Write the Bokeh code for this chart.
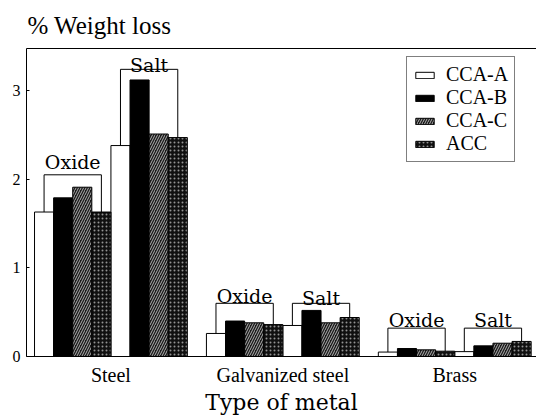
from bokeh.plotting import figure
from bokeh.models import Range1d, LinearAxis, FixedTicker, Legend, LegendItem, ColumnDataSource
from bokeh.embed import file_html
from bokeh.resources import INLINE
from bokeh.core.properties import value

# ---------------- data ----------------
metals = ["Steel", "Galvanized steel", "Brass"]
treatments = ["Oxide", "Salt"]
series = ["CCA-A", "CCA-B", "CCA-C", "ACC"]

# % weight loss, order: Steel-Oxide, Steel-Salt, Galv-Oxide, Galv-Salt, Brass-Oxide, Brass-Salt
cca_a = [1.63, 2.38, 0.26, 0.35, 0.05, 0.055]
cca_b = [1.79, 3.12, 0.40, 0.52, 0.09, 0.12]
cca_c = [1.91, 2.51, 0.38, 0.38, 0.075, 0.15]
acc = [1.63, 2.47, 0.36, 0.44, 0.06, 0.17]
bracket_levels = [2.05, 3.24, 0.60, 0.60, 0.32, 0.32]
y_ticks = [0, 1, 2, 3]
x_title = "Type of metal"
y_title = "% Weight loss"

# ---------------- styling ----------------
SERIF = "DejaVu Serif"
TIMES = "Liberation Serif"
INK = "black"
label_gap = [13, 4, 7, 5, 8, 8]  # px between bracket and its label
start = 0.42  # offset of first bar (bar-width units)

values = [cca_a, cca_b, cca_c, acc]
styles = [
    dict(fill_color="white"),
    dict(fill_color="black"),
    dict(fill_color="#1a1a1a", hatch_pattern="/", hatch_color="white", hatch_scale=5, hatch_weight=1, hatch_alpha=0.65),
    dict(fill_color="#101010", hatch_pattern=".", hatch_color="white", hatch_scale=4, hatch_weight=1, hatch_alpha=0.55),
]

p = figure(width=536, height=419, output_backend="svg", toolbar_location=None,
           x_range=Range1d(0, 26.7), y_range=Range1d(0, 3.475),
           min_border_left=26, min_border_right=0, min_border_top=46, min_border_bottom=63,
           outline_line_color=None, background_fill_color="white", border_fill_color="white")
p.grid.visible = False

# bar positions derived from group/treatment/series index
def bar_x(g, t, s):
    return start + 9 * g + 4 * t + s + 0.5

renderers = []
for s, (name, vals, st) in enumerate(zip(series, values, styles)):
    xs, tops = [], []
    for g in range(len(metals)):
        for t in range(len(treatments)):
            xs.append(bar_x(g, t, s))
            tops.append(vals[2 * g + t])
    src = ColumnDataSource(dict(x=xs, top=tops))
    r = p.vbar(x="x", top="top", bottom=0, width=1, source=src,
               line_color="black", line_width=1, **st)
    renderers.append(r)

# brackets
bxs, bys, lx, ly, lt, lo = [], [], [], [], [], []
for g in range(len(metals)):
    for t in range(len(treatments)):
        k = 2 * g + t
        x0, x1 = bar_x(g, t, 0), bar_x(g, t, 3)
        lev = bracket_levels[k]
        bxs.append([x0, x0, x1, x1])
        bys.append([values[0][k], lev, lev, values[3][k]])
        lx.append((x0 + x1) / 2)
        ly.append(lev)
        lt.append(treatments[t])
        lo.append(-label_gap[k])
p.multi_line(xs=bxs, ys=bys, line_color="black", line_width=1)
p.text(x=lx, y=ly, text=lt, y_offset=lo, text_align="center", text_baseline="alphabetic",
       text_font=value(SERIF), text_font_size="19px", text_color=INK)

# axes
group_centers = [start + 9 * g + 4 for g in range(len(metals))]
xa = p.xaxis[0]
xa.ticker = FixedTicker(ticks=group_centers)
xa.major_label_overrides = {c: m for c, m in zip(group_centers, metals)}
xa.major_tick_line_color = None
xa.minor_tick_line_color = None
xa.major_label_text_font = TIMES
xa.major_label_text_font_size = "20px"
xa.major_label_text_color = INK
xa.major_label_standoff = 1
xa.axis_label = x_title
xa.axis_label_text_font = SERIF
xa.axis_label_text_font_style = "normal"
xa.axis_label_text_font_size = "22px"
xa.axis_label_text_color = INK
xa.axis_label_standoff = 1
xa.axis_line_color = "black"

ya = p.yaxis[0]
ya.ticker = FixedTicker(ticks=y_ticks)
ya.major_tick_in = 3
ya.major_tick_out = 0
ya.major_tick_line_color = "black"
ya.minor_tick_line_color = None
ya.major_label_text_font = TIMES
ya.major_label_text_font_size = "16px"
ya.major_label_text_color = INK
ya.major_label_standoff = 6
ya.axis_line_color = "black"

top_axis = LinearAxis(ticker=FixedTicker(ticks=[]), major_tick_line_color=None,
                      minor_tick_line_color=None, major_label_text_font_size="0px",
                      axis_line_color="black")
p.add_layout(top_axis, "above")

p.title.text = y_title
p.title.text_font = TIMES
p.title.text_font_style = "normal"
p.title.text_font_size = "25px"
p.title.text_color = INK
p.title.align = "left"
p.title.offset = 1
p.title.standoff = 19

legend = Legend(items=[LegendItem(label=n, renderers=[r]) for n, r in zip(series, renderers)],
                location=(380, 194), glyph_width=23, glyph_height=8, label_standoff=10,
                padding=6, spacing=0, label_text_font=TIMES,
                label_text_font_size="20px", label_text_color=INK,
                border_line_color="black", border_line_width=1, background_fill_alpha=1,
                margin=0)
p.add_layout(legend)

open("out.html", "w").write(file_html(p, INLINE))
